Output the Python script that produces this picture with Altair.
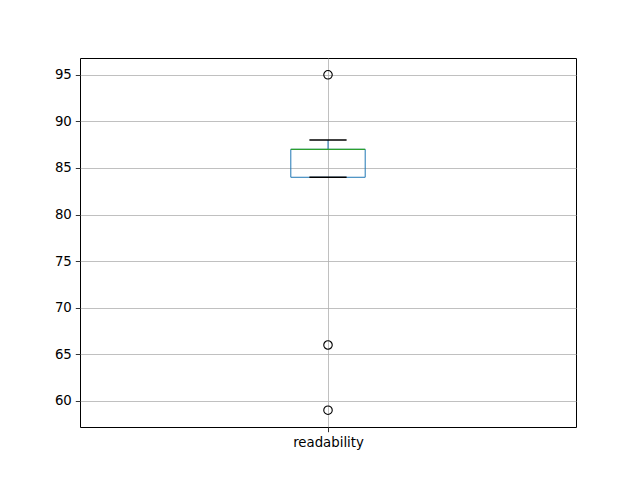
import altair as alt
import pandas as pd

labels = ["readability"]
positions = [1]
q1 = [84]
median = [87]
q3 = [87]
whisker_low = [84]
whisker_high = [88]
outlier_values = [95, 66, 59]
y_ticks = [60, 65, 70, 75, 80, 85, 90, 95]

box_half = 0.075
cap_half = 0.0375

stats = pd.DataFrame({
    "label": labels,
    "pos": positions,
    "q1": q1,
    "median": median,
    "q3": q3,
    "lo": whisker_low,
    "hi": whisker_high,
})
stats["bx1"] = stats["pos"] - box_half
stats["bx2"] = stats["pos"] + box_half
stats["cx1"] = stats["pos"] - cap_half
stats["cx2"] = stats["pos"] + cap_half

outs = pd.DataFrame({"pos": [positions[0]] * len(outlier_values), "value": outlier_values})

xscale = alt.Scale(domain=[0.5, 1.5], nice=False, zero=False)
yscale = alt.Scale(domain=[57.2, 96.8], nice=False, zero=False)

axis_common = dict(
    grid=True, gridColor="#b0b0b0", gridWidth=0.8, domain=False,
    tickColor="black", tickSize=4.7, tickWidth=0.8, labelColor="black",
    labelFont="DejaVu Sans", labelFontSize=13.3, labelPadding=4, title=None,
)
xaxis = alt.Axis(values=[1], labelExpr="'readability'", **axis_common)
yaxis = alt.Axis(values=y_ticks, **axis_common)

base = alt.Chart(stats)

box = base.mark_rect(fill="transparent", stroke="#1f77b4", strokeWidth=1).encode(
    x=alt.X("bx1:Q", scale=xscale, axis=xaxis),
    x2="bx2:Q",
    y=alt.Y("q1:Q", scale=yscale, axis=yaxis),
    y2="q3:Q",
)
whisk_lo = base.mark_rule(color="#1f77b4", strokeWidth=1).encode(
    x=alt.X("pos:Q", scale=xscale), y=alt.Y("lo:Q", scale=yscale), y2="q1:Q")
whisk_hi = base.mark_rule(color="#1f77b4", strokeWidth=1).encode(
    x=alt.X("pos:Q", scale=xscale), y=alt.Y("q3:Q", scale=yscale), y2="hi:Q")
cap_lo = base.mark_rule(color="black", strokeWidth=1.3).encode(
    x=alt.X("cx1:Q", scale=xscale), x2="cx2:Q", y=alt.Y("lo:Q", scale=yscale))
cap_hi = base.mark_rule(color="black", strokeWidth=1.3).encode(
    x=alt.X("cx1:Q", scale=xscale), x2="cx2:Q", y=alt.Y("hi:Q", scale=yscale))
med = base.mark_rule(color="#2ca02c", strokeWidth=1.3).encode(
    x=alt.X("bx1:Q", scale=xscale), x2="bx2:Q", y=alt.Y("median:Q", scale=yscale))
pts = alt.Chart(outs).mark_point(shape="circle", filled=False, color="black", opacity=1,
                                 size=72, strokeWidth=1.1).encode(
    x=alt.X("pos:Q", scale=xscale), y=alt.Y("value:Q", scale=yscale))

chart = alt.layer(box, whisk_lo, whisk_hi, cap_lo, cap_hi, med, pts).properties(
    width=496, height=369,
    background="white",
    autosize=alt.AutoSizeParams(type="none"),
    padding={"left": 72, "top": 50, "right": 56, "bottom": 45},
).configure_view(stroke="black", strokeWidth=1)

chart.save("out.html", embed_options={"renderer": "svg", "actions": False})
